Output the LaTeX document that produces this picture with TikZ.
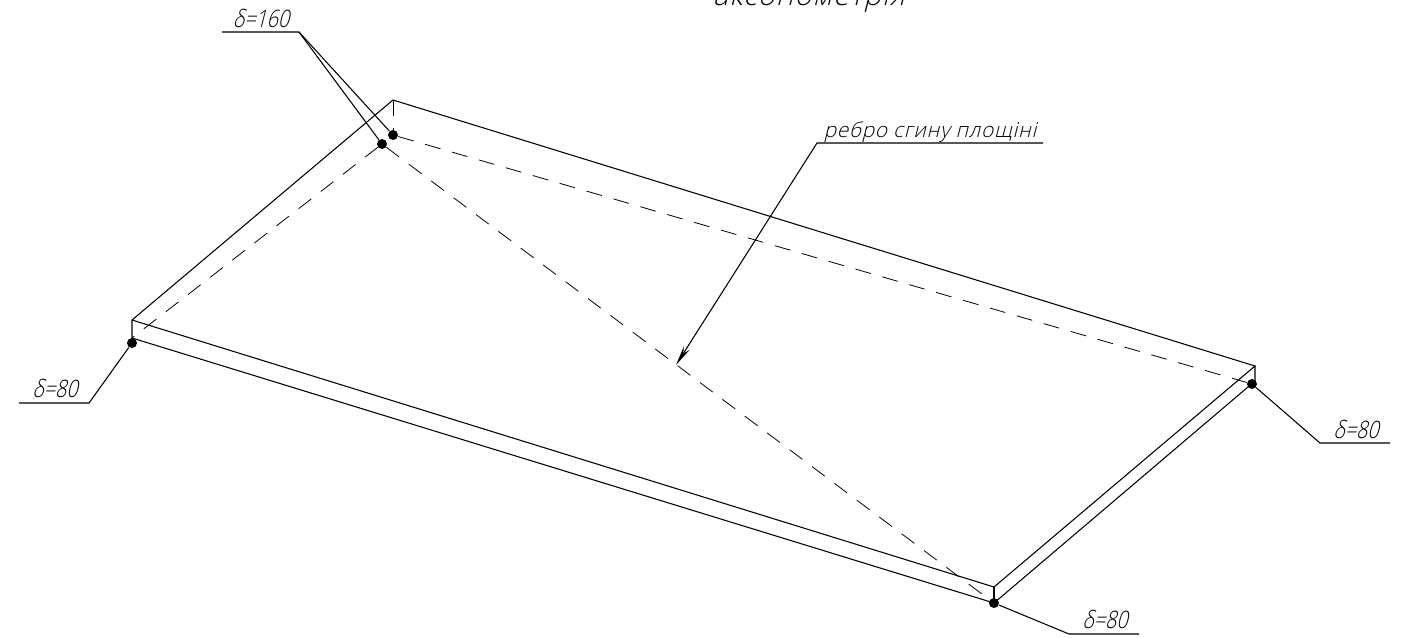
\documentclass[tikz,border=0pt]{standalone}
\usepackage{fontspec}
\usetikzlibrary{arrows.meta}
\newfontfamily\gostfont[FakeSlant=0.25,FakeStretch=0.82]{Open Sans Light}
\newfontfamily\gostwide[FakeSlant=0.25,LetterSpace=4]{Open Sans Light}
\tikzset{every picture/.style={line width=0.75pt}}
\tikzset{
  dashline/.style={dash pattern=on 12pt off 9pt,line width=0.6pt},
  edgeline/.style={line width=0.8pt},
  leaderline/.style={line width=0.8pt},
  weld/.style={circle,fill=black,inner sep=0pt,minimum size=7.5pt},
  shelftext/.style={anchor=base,inner sep=0.75pt,font=\gostfont\fontsize{18}{18}\selectfont},
}

\begin{document}
\begin{tikzpicture}[x=0.75pt,y=0.75pt,yscale=-1,xscale=1]
\useasboundingbox (0,0) rectangle (1404,637);

%Corners of the plate
\coordinate (topback) at (393,100);
\coordinate (topleft) at (132,320);
\coordinate (topfront) at (994,587);
\coordinate (topright) at (1255,366);
\coordinate (lowleft) at (132,338);
\coordinate (lowfront) at (994,603);
\coordinate (lowright) at (1255,381);

%Points of the bent plane
\node [weld] (dotback) at (393,135) {};
\node [weld] (dotfold) at (382,144) {};
\node [weld] (dotleft) at (132,343) {};
\node [weld] (dotright) at (1252,384) {};
\node [weld] (dotfront) at (994,603) {};

%Straight Lines: plate
\draw [edgeline] (topback) -- (topleft) -- (topfront) -- (topright) -- cycle ;
\draw [edgeline] (topleft) -- (lowleft) -- (lowfront) -- (lowright) -- (topright) ;
\draw [edgeline] (topfront) -- (lowfront) ;

%Dashed Lines: hidden edges
\draw [dashline] (topback) -- (dotback) ;
\draw [dashline] (dotback) -- (dotright) ;
\draw [dashline] (dotfold) -- (lowleft) ;
\draw [dashline] (dotfold) -- (dotfront) ;

%Leader lines
\coordinate (shelfa) at (222,32);
\coordinate (shelfb) at (299,32);
\draw [leaderline] (shelfa) -- (shelfb) -- (dotback) ;
\draw [leaderline] (shelfb) -- (dotfold) ;

\coordinate (shelfc) at (19,403);
\coordinate (shelfd) at (89,403);
\draw [leaderline] (shelfc) -- (shelfd) -- (dotleft) ;

\coordinate (shelfe) at (1390,443);
\coordinate (shelff) at (1320,443);
\draw [leaderline] (shelfe) -- (shelff) -- (dotright) ;

\coordinate (shelfg) at (1139,634);
\coordinate (shelfh) at (1069,634);
\draw [leaderline] (shelfg) -- (shelfh) -- (dotfront) ;

\coordinate (shelfi) at (1043,143);
\coordinate (shelfj) at (817,143);
\coordinate (foldtip) at (676,365);
\draw [leaderline,-{Stealth[length=15pt,width=5pt]}] (shelfi) -- (shelfj) -- (foldtip) ;

% Text Node
\node [shelftext] (labela) at (261,27) {δ=160};
% Text Node
\node [shelftext] (labelb) at (55,397) {δ=80};
% Text Node
\node [shelftext] (labelc) at (1356,438) {δ=80};
% Text Node
\node [shelftext] (labeld) at (1105,628) {δ=80};
% Text Node
\node [shelftext,font=\gostwide\fontsize{15.5}{16}\selectfont] (labele) at (930,137) {ребро сгину площіні};
% Text Node
\node [shelftext,font=\gostwide\fontsize{21.5}{22}\selectfont] (labelf) at (809,5) {аксонометрія};

\end{tikzpicture}
\end{document}
